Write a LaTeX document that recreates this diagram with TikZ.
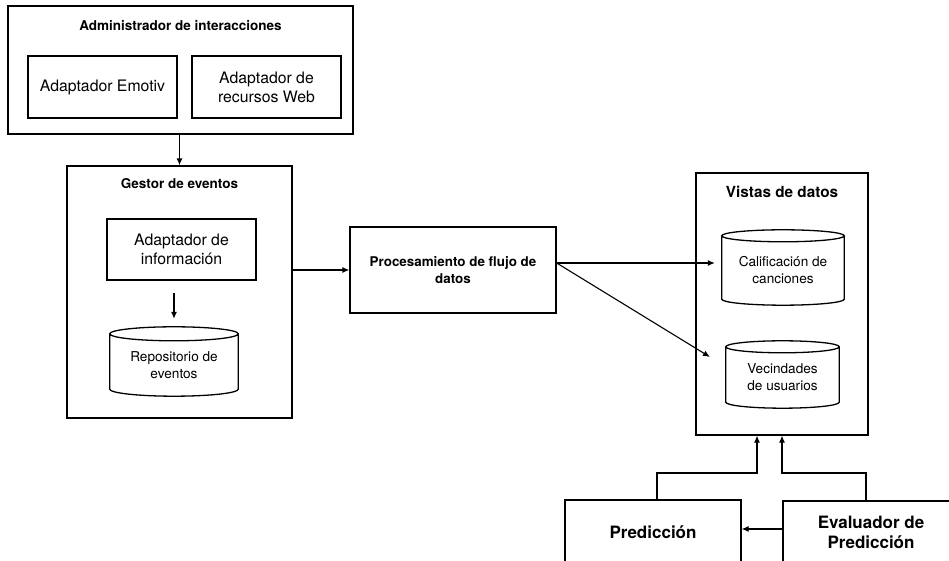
\documentclass[tikz,border=0pt]{standalone}
\usepackage{fontspec}
\setmainfont{TeX Gyre Heros}
\usetikzlibrary{arrows.meta,calc}

\tikzset{
  box/.style={draw, line width=1.3pt, inner sep=0pt, align=center},
  plainbox/.style={box, font=\fontsize{15.8}{19}\selectfont},
  boldbox/.style={box, font=\bfseries\fontsize{13.4}{17}\selectfont},
  bigbold/.style={box, font=\bfseries\fontsize{17}{20}\selectfont},
  title/.style={inner sep=0pt, font=\bfseries\fontsize{13.5}{16}\selectfont},
  drumbody/.style={inner sep=0pt, align=center, font=\fontsize{13.6}{17}\selectfont},
  drumline/.style={line width=1.3pt},
  arr/.style={line width=1.1pt, -{Latex[length=7pt,width=6pt]}},
  wire/.style={line width=1.1pt}
}

% database drum drawn around a node: top ellipse centred on its north side
\newcommand\drumoutline[2]{%
  \draw[drumline] let \p1=(#1.north west), \p2=(#1.south east), \n1={(\x2-\x1)/2} in
    (\x1,\y1) -- (\x1,\y2+#2)
      arc[start angle=180, end angle=360, x radius=\n1, y radius=#2] -- (\x2,\y1)
    (\x1+\n1,\y1) ellipse[x radius=\n1, y radius=#2];
}

\begin{document}
\begin{tikzpicture}[x=1pt, y=1pt]
\useasboundingbox (0,0) rectangle (949,561);
\clip (0,0) rectangle (949,561);

% interaction manager
\node[box, minimum width=345pt, minimum height=128pt] (admin) at (180.5,491) {};
\node[title] (admintitle) at (180.5,535) {Administrador de interacciones};
\node[plainbox, minimum width=149pt, minimum height=62pt] (emotiv) at (102.5,474) {Adaptador Emotiv};
\node[plainbox, minimum width=149pt, minimum height=62pt] (web) at (266.5,474) {Adaptador de\\recursos Web};

% event manager
\node[box, minimum width=225pt, minimum height=252pt] (gestor) at (179.5,269) {};
\node[title] (gestortitle) at (179.5,377) {Gestor de eventos};
\node[plainbox, minimum width=149pt, minimum height=61pt] (info) at (181.5,311.5) {Adaptador de\\información};
\node[drumbody, minimum width=128pt, minimum height=62pt] (repo) at (174,196) {Repositorio de\\eventos};
\drumoutline{repo}{7pt}

% stream processing
\node[boldbox, minimum width=206pt, minimum height=86pt] (proc) at (453,291) {Procesamiento de flujo de\\datos};

% data views
\node[box, minimum width=172pt, minimum height=262pt] (vistas) at (782,257) {};
\node[title, font=\bfseries\fontsize{15.3}{18}\selectfont] (vistastitle) at (782,369) {Vistas de datos};
\node[drumbody, minimum width=122pt, minimum height=69pt] (cyl1) at (783,290.5) {Calificación de\\canciones};
\drumoutline{cyl1}{6pt}
\node[drumbody, minimum width=113pt, minimum height=61pt] (cyl2) at (782.5,183.5) {Vecindades\\de usuarios};
\drumoutline{cyl2}{6pt}

% prediction blocks
\node[bigbold, minimum width=176pt, minimum height=64pt] (pred) at (653,29) {Predicción};
\node[bigbold, minimum width=176pt, minimum height=62pt] (eval) at (871,29) {Evaluador de\\Predicción};

% connectors
\draw[arr] (admin.south -| gestor.north) -- (gestor.north);
\draw[arr, shorten <=12pt, shorten >=15pt] (repo.north |- info.south) -- (repo.north);
\draw[arr] (gestor.east |- proc.west) -- (proc.west);
\draw[arr, shorten >=7pt] ([yshift=7pt]proc.east) -- ([yshift=7pt]proc.east -| cyl1.west);
\coordinate (diagend) at (710,204);
\draw[arr] ([yshift=7pt]proc.east) -- (diagend);

\coordinate (j1) at (757,88);
\coordinate (j2) at (782,88);
\draw[arr] ([xshift=4pt]pred.north) |- (j1) -- (j1 |- vistas.south);
\draw[arr] ([xshift=-5pt]eval.north) |- (j2) -- (j2 |- vistas.south);
\draw[arr] ([yshift=3pt]eval.west) -- ([yshift=3pt]pred.east);
\end{tikzpicture}
\end{document}
